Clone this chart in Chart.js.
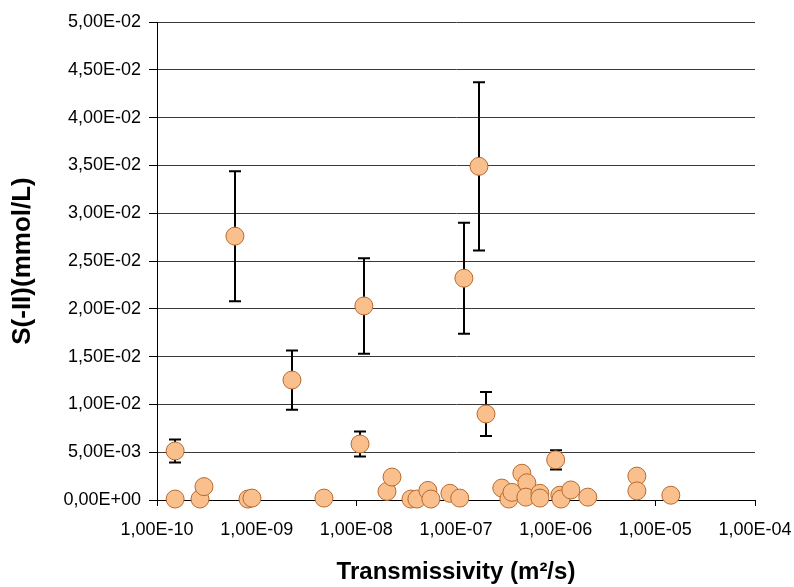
<!DOCTYPE html>
<html>
<head>
<meta charset="utf-8">
<script src="https://cdn.jsdelivr.net/npm/chart.js@4/dist/chart.umd.min.js"></script>
<style>
  html, body { margin: 0; padding: 0; background: #fff; }
  #wrap { width: 794px; height: 587px; }
</style>
</head>
<body>
<div id="wrap"><canvas id="c" width="794" height="587"></canvas></div>
<script>
// points with error bars
const barX = [1.52e-10, 6.05e-10, 2.26e-9, 1.09e-8, 1.19e-8, 1.2e-7, 1.7e-7, 2.0e-7, 1.0e-6];
const barY = [5.13e-3, 2.76e-2, 1.255e-2, 5.86e-3, 2.03e-2, 2.32e-2, 3.49e-2, 9.0e-3, 4.2e-3];
const barErr = [1.2e-3, 6.8e-3, 3.1e-3, 1.3e-3, 5.0e-3, 5.8e-3, 8.8e-3, 2.3e-3, 1.0e-3];

// points without error bars
const ptsX = [1.52e-10, 2.70e-10, 2.96e-10, 8.18e-10, 8.97e-10, 4.73e-9, 2.03e-8, 2.28e-8,
  3.53e-8, 4.05e-8, 5.22e-8, 5.60e-8, 8.69e-8, 1.09e-7, 2.88e-7, 3.39e-7, 3.64e-7,
  4.58e-7, 5.14e-7, 5.02e-7, 6.95e-7, 6.95e-7, 1.10e-6, 1.13e-6, 1.42e-6, 2.10e-6,
  6.53e-6, 6.53e-6, 1.43e-5];
const ptsY = [1e-4, 1e-4, 1.4e-3, 1e-4, 2e-4, 2e-4, 9e-4, 2.4e-3,
  1e-4, 1e-4, 1.0e-3, 1e-4, 7e-4, 2e-4, 1.25e-3, 1e-4, 8e-4,
  2.8e-3, 1.8e-3, 3e-4, 7e-4, 2e-4, 5e-4, 1e-4, 1.05e-3, 3e-4,
  2.5e-3, 9.5e-4, 5e-4];

const xTicks = [1e-10, 1e-9, 1e-8, 1e-7, 1e-6, 1e-5, 1e-4];
const yTicks = [0, 0.005, 0.01, 0.015, 0.02, 0.025, 0.03, 0.035, 0.04, 0.045, 0.05];

const fmtSci = v => {
  if (v === 0) return '0,00E+00';
  const [m, e] = v.toExponential(2).split('e');
  const n = parseInt(e, 10);
  return m.replace('.', ',') + 'E' + (n < 0 ? '-' : '+') + String(Math.abs(n)).padStart(2, '0');
};

const pointStyle = {
  backgroundColor: '#F9BF8C',
  borderColor: '#B8692E',
  borderWidth: 1,
  pointRadius: 9,
  pointHoverRadius: 9,
  clip: false,
};

// error bars drawn under the markers
const errorBars = {
  id: 'errorBars',
  beforeDatasetsDraw(chart) {
    const { ctx, scales: { x, y } } = chart;
    ctx.save();
    ctx.strokeStyle = '#000';
    ctx.lineWidth = 2;
    barX.forEach((xv, i) => {
      const px = Math.round(x.getPixelForValue(xv));
      const top = y.getPixelForValue(barY[i] + barErr[i]);
      const bot = y.getPixelForValue(barY[i] - barErr[i]);
      ctx.beginPath();
      ctx.moveTo(px, top); ctx.lineTo(px, bot);
      ctx.moveTo(px - 6, top); ctx.lineTo(px + 6, top);
      ctx.moveTo(px - 6, bot); ctx.lineTo(px + 6, bot);
      ctx.stroke();
    });
    ctx.restore();
  }
};

const family = 'Liberation Sans, Arial, sans-serif';
const tickFont = { family, size: 18 };

new Chart(document.getElementById('c'), {
  type: 'scatter',
  data: {
    datasets: [
      { data: barX.map((v, i) => ({ x: v, y: barY[i] })), ...pointStyle },
      { data: ptsX.map((v, i) => ({ x: v, y: ptsY[i] })), ...pointStyle },
    ]
  },
  plugins: [errorBars],
  options: {
    responsive: false,
    animation: false,
    events: [],
    layout: { padding: { top: 22, right: 39, left: 0, bottom: 0 } },
    plugins: { legend: { display: false }, tooltip: { enabled: false } },
    scales: {
      x: {
        type: 'logarithmic',
        min: 1e-10, max: 1e-4,
        afterBuildTicks: s => { s.ticks = xTicks.map(v => ({ value: v })); },
        afterFit: s => { s.height = 87; s.paddingLeft = 0; s.paddingRight = 0; },
        ticks: { color: '#000', font: tickFont, autoSkip: false, maxRotation: 0, padding: 13,
          callback: v => fmtSci(v) },
        grid: { drawOnChartArea: false, color: '#000', tickLength: 6 },
        border: { color: '#000', width: 1 },
        title: { display: true, text: 'Transmissivity (m²/s)', color: '#000',
          font: { family, size: 24, weight: 'bold' }, padding: { top: 0, bottom: 0 } }
      },
      y: {
        min: 0, max: 0.05,
        afterBuildTicks: s => { s.ticks = yTicks.map(v => ({ value: v })); },
        afterFit: s => { s.width = 157; s.paddingTop = 0; s.paddingBottom = 0; },
        ticks: { color: '#000', font: tickFont, padding: 8, callback: v => fmtSci(v) },
        grid: { color: '#3a3a3a', tickColor: '#000', tickLength: 8 },
        border: { color: '#000', width: 1 },
        title: { display: true, text: 'S(-II)(mmol/L)', color: '#000',
          font: { family, size: 26, weight: 'bold' }, padding: { top: 7, bottom: 0 } }
      }
    }
  }
});
</script>
</body>
</html>
